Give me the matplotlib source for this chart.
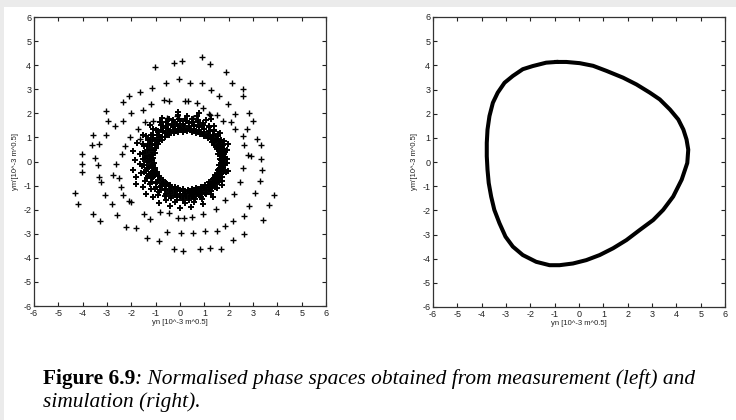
import numpy as np
import matplotlib.pyplot as plt
from matplotlib.patches import Rectangle

plt.rcParams['font.family'] = ['Liberation Sans Narrow', 'Liberation Sans', 'DejaVu Sans']
plt.rcParams['axes.unicode_minus'] = False

# Measurement: outer scattered turns (x, y)
outer_x = [0.89, 1.23, 0.07, -0.25, -1.03, 1.88, 2.12, 2.58, 2.58, -0.03, -0.58, -1.15, -1.64, -2.08,
           -2.33, 0.41, 0.89, 1.26, 1.60, 1.96, 2.26, 2.85, 3.01, 2.74, 3.15, 3.33, 2.63, 2.90, 3.33,
           3.36, 3.29, 3.10, 3.85, 3.64, 3.40, 2.85, 2.63, 2.18, 1.85, 2.19, 2.64, 1.51, 1.03, 0.55,
           0.03, -0.52, -1.34, -0.85, -0.25, 0.11, 0.82, 1.23, 1.68, -1.81, -2.22, -3.29, -3.56, -4.18,
           -4.32, -2.81, -3.08, -2.60, -2.08, -2.36, -2.74, -3.26, -3.33, -4.04, -4.04, -4.04, -3.63,
           -3.32, -3.56, -3.04, -3.48, -3.38, -2.97, -3.04, -2.67, -2.33, -2.03, -1.53, -1.21, -0.66,
           -0.44, 0.21, 0.32, 0.68, 0.93, 1.23, 1.51, 1.75, 2.08, 2.26, 2.60, 2.78, 2.58, 2.47, 2.23,
           1.85, 1.48, 0.96, 0.48, 0.18, -0.10, -0.44, -0.82, -1.23, -1.48, -2.03, -2.42, -2.52, -2.63,
           -2.40, -2.25, -2.05, -1.74, -1.44, -1.10, -0.55, -0.14, 0.55, 1.21, -1.64]
outer_y = [4.32, 4.04, 4.18, 4.07, 3.93, 3.70, 3.27, 3.00, 2.70, 3.42, 3.25, 3.07, 2.88, 2.70,
           2.47, 3.25, 3.25, 2.97, 2.70, 2.40, 1.99, 2.01, 1.67, 1.36, 0.95, 0.67, 0.67, 0.21, 0.10,
           -0.36, -0.79, -1.30, -1.38, -1.79, -2.41, -1.86, -2.27, -2.48, -2.68, -3.26, -3.03, -2.89,
           -2.89, -2.95, -2.96, -2.92, -3.19, -3.30, -3.64, -3.70, -3.63, -3.58, -3.63, -2.78, -2.71,
           -2.48, -2.16, -1.78, -1.30, -1.78, -1.41, -2.23, -1.64, -1.38, -0.56, -0.86, -0.63, -0.42,
           -0.11, 0.33, 0.67, 0.71, 1.12, 1.10, 0.16, -0.15, 1.67, 2.08, 1.49, 1.67, 2.01, 2.15, 2.40,
           2.56, 2.52, 2.53, 2.53, 2.42, 2.22, 1.95, 1.95, 1.67, 1.64, 1.33, 1.05, 0.26, -0.25, -0.84,
           -1.34, -1.58, -1.99, -2.16, -2.30, -2.33, -2.33, -2.12, -2.10, -2.37, -2.16, -1.68, -1.07,
           -0.70, -0.11, 0.30, 0.64, 1.03, 1.36, 1.64, 1.67, 1.81, 1.90, 1.81, 1.99, 0.92]

# Measurement: dense core ring, read as (angle in degrees, radius) about the ring centre
ring_cx, ring_cy = 0.27, 0.05
ring_ang = [3, 12, 20, 29, 37, 46, 55, 63, 71, 80, 89, 98, 106, 115, 124, 132, 141, 150, 158, 167,
            176, 185, 193, 202, 211, 219, 228, 237, 246, 254, 263, 272, 280, 289, 298, 306, 315, 324,
            333, 342, 351,
            7, 16, 25, 33, 42, 50, 59, 68, 76, 85, 94, 102, 111, 120, 128, 137, 146, 154, 163, 172,
            180, 189, 198, 206, 215, 224, 232, 241, 250, 258, 267, 276, 285, 293, 302, 311, 319, 328,
            337, 346, 355,
            1, 10, 18, 27, 35, 44, 52, 61, 70, 78, 87, 96, 104, 113, 122, 130, 139, 148, 156, 165,
            174, 182, 191, 200, 208, 217, 226, 234, 243, 252, 260, 269, 278, 287, 295, 304, 313, 321,
            330, 339, 348, 357,
            5, 14, 23, 31, 40, 48, 57, 66, 74, 83, 92, 100, 109, 118, 126, 135, 144, 152, 161, 170,
            178, 187, 196, 204, 213, 222, 230, 239, 248, 256, 265, 274, 282, 291, 300, 308, 317, 326,
            335, 344, 353,
            2, 15, 28, 40, 52, 64, 77, 90, 101, 113, 125, 137, 149, 160, 172, 184, 195, 207, 219, 231,
            243, 255, 268, 280, 292, 305, 317, 330, 343, 356,
            22, 60, 75, 100, 120, 135, 150, 160, 170, 180, 190, 198, 205, 212, 220, 228, 238, 250,
            262, 275, 290, 305, 325, 345,
            9, 18, 26, 35, 43, 52, 61, 69, 78, 86, 95, 104, 112, 121, 129, 138, 147, 155, 164, 173,
            181, 190, 199, 207, 216, 225, 233, 242, 251, 259, 268, 277, 286, 294, 303, 312, 320, 329,
            338, 347, 356,
            4, 13, 21, 30, 38, 47, 56, 65, 73, 82, 91, 99, 108, 117, 125, 134, 143, 151, 160, 169,
            177, 186, 195, 203, 212, 221, 229, 238, 247, 255, 264, 273, 281, 290, 299, 307, 316, 325,
            334, 343, 352,
            0, 8, 17, 24, 34, 41, 49, 58, 67, 75, 84, 93, 101, 110, 119, 127, 136, 145, 153, 162,
            171, 179, 188, 197, 205, 214, 223, 231, 240, 249, 257, 266, 275, 283, 292, 301, 310, 318,
            327, 336, 345, 354]
ring_rad = [1.36, 1.33, 1.35, 1.30, 1.29, 1.26, 1.24, 1.22, 1.21, 1.20, 1.21, 1.19, 1.22, 1.24, 1.27,
            1.30, 1.31, 1.34, 1.36, 1.35, 1.37, 1.36, 1.34, 1.31, 1.30, 1.27, 1.25, 1.22, 1.20, 1.21,
            1.19, 1.22, 1.20, 1.23, 1.25, 1.27, 1.30, 1.32, 1.31, 1.35, 1.34,
            1.45, 1.47, 1.42, 1.44, 1.40, 1.38, 1.37, 1.35, 1.33, 1.36, 1.32, 1.35, 1.38, 1.40, 1.43,
            1.44, 1.47, 1.46, 1.49, 1.48, 1.50, 1.47, 1.46, 1.44, 1.42, 1.40, 1.38, 1.36, 1.34, 1.32,
            1.35, 1.33, 1.36, 1.38, 1.37, 1.41, 1.43, 1.42, 1.46, 1.44, 1.47,
            1.52, 1.55, 1.53, 1.56, 1.54, 1.52, 1.55, 1.50, 1.53, 1.51, 1.54, 1.52, 1.55, 1.58, 1.60,
            1.62, 1.61, 1.64, 1.63, 1.66, 1.64, 1.62, 1.65, 1.63, 1.60, 1.58, 1.57, 1.54, 1.52, 1.50,
            1.49, 1.47, 1.50, 1.48, 1.51, 1.50, 1.53, 1.52, 1.55, 1.53, 1.54, 1.56,
            1.60, 1.62, 1.64, 1.66, 1.68, 1.70, 1.72, 1.71, 1.74, 1.73, 1.72, 1.75, 1.76, 1.78, 1.80,
            1.79, 1.82, 1.80, 1.84, 1.82, 1.80, 1.83, 1.81, 1.79, 1.78, 1.76, 1.74, 1.72, 1.70, 1.68,
            1.66, 1.64, 1.65, 1.63, 1.62, 1.61, 1.60, 1.63, 1.61, 1.62, 1.59,
            1.68, 1.70, 1.74, 1.78, 1.82, 1.85, 1.88, 1.86, 1.90, 1.88, 1.92, 1.90, 1.94, 1.92, 1.95,
            1.93, 1.96, 1.90, 1.88, 1.86, 1.83, 1.80, 1.78, 1.76, 1.74, 1.72, 1.70, 1.69, 1.71, 1.67,
            1.82, 1.98, 2.02, 2.05, 2.04, 2.10, 2.08, 2.15, 2.22, 2.12, 2.25, 2.18, 2.30, 2.12, 2.20,
            2.06, 2.10, 2.02, 1.98, 1.95, 1.92, 1.88, 1.80, 1.78,
            1.42, 1.45, 1.48, 1.47, 1.50, 1.52, 1.49, 1.46, 1.44, 1.42, 1.43, 1.46, 1.49, 1.52, 1.55,
            1.54, 1.57, 1.56, 1.58, 1.57, 1.55, 1.58, 1.56, 1.54, 1.52, 1.50, 1.48, 1.46, 1.43, 1.41,
            1.40, 1.42, 1.44, 1.43, 1.45, 1.44, 1.46, 1.45, 1.47, 1.44, 1.43,
            1.50, 1.52, 1.58, 1.60, 1.62, 1.64, 1.66, 1.63, 1.65, 1.62, 1.64, 1.66, 1.68, 1.70, 1.72,
            1.71, 1.74, 1.72, 1.75, 1.73, 1.72, 1.74, 1.73, 1.71, 1.70, 1.68, 1.66, 1.63, 1.61, 1.58,
            1.56, 1.55, 1.57, 1.54, 1.55, 1.53, 1.52, 1.55, 1.53, 1.52, 1.50,
            1.40, 1.39, 1.41, 1.37, 1.36, 1.33, 1.31, 1.29, 1.28, 1.27, 1.26, 1.27, 1.29, 1.31, 1.33,
            1.36, 1.38, 1.40, 1.42, 1.41, 1.43, 1.42, 1.40, 1.38, 1.36, 1.34, 1.31, 1.29, 1.27, 1.26,
            1.25, 1.27, 1.26, 1.28, 1.30, 1.32, 1.35, 1.37, 1.36, 1.39, 1.38, 1.41]

# Simulation: closed orbit (x, y)
sim_x = [-0.93, -1.35, -1.90, -2.31, -2.72, -3.06, -3.34, -3.54, -3.68, -3.76, -3.79, -3.79, -3.76,
         -3.71, -3.61, -3.48, -3.27, -3.02, -2.72, -2.31, -1.76, -1.21, -0.80, -0.25, 0.30, 0.85,
         1.40, 1.95, 2.50, 3.05, 3.46, 3.87, 4.22, 4.45, 4.49, 4.42, 4.29, 4.08, 3.74, 3.32, 2.91,
         2.36, 1.81, 1.13, 0.58, 0.03, -0.52, -0.93]
sim_y = [4.14, 4.11, 3.97, 3.84, 3.56, 3.28, 2.87, 2.45, 1.90, 1.34, 0.79, 0.24, -0.32, -0.87, -1.43,
         -1.98, -2.53, -3.09, -3.50, -3.85, -4.13, -4.27, -4.27, -4.20, -4.06, -3.85, -3.57, -3.23,
         -2.81, -2.40, -1.98, -1.43, -0.73, -0.04, 0.51, 0.93, 1.34, 1.76, 2.17, 2.59, 2.87, 3.21,
         3.49, 3.77, 3.98, 4.09, 4.14, 4.14]

ticks = list(range(-6, 7))
xlab = "yn [10^-3 m^0.5]"
ylab = "ym'[10^-3 m^0.5]"

fig = plt.figure(figsize=(7.36, 4.2), dpi=100)
fig.patch.set_facecolor('#ebebeb')
fig.patches.append(Rectangle((4 / 736, 0), 1, 413 / 420, transform=fig.transFigure,
                             facecolor='white', edgecolor='none', zorder=-5))

ax1 = fig.add_axes([34 / 736, 114 / 420, 292 / 736, 289 / 420])
ax2 = fig.add_axes([433 / 736, 113 / 420, 292 / 736, 290 / 420])

ang = np.deg2rad(ring_ang)
rx = ring_cx + np.array(ring_rad) * np.cos(ang)
ry = ring_cy + np.array(ring_rad) * np.sin(ang)
ax1.plot(outer_x, outer_y, '+', color='black', markersize=4.5, mew=1.0)
ax1.plot(rx, ry, '+', color='black', markersize=5, mew=1.4)

ax2.plot(sim_x, sim_y, '-', color='black', linewidth=2.9, solid_joinstyle='round')

for ax in (ax1, ax2):
    ax.set_xlim(-6, 6)
    ax.set_ylim(-6, 6)
    ax.set_xticks(ticks)
    ax.set_yticks(ticks)
    ax.tick_params(direction='in', top=True, right=True, length=3, width=0.8,
                   labelsize=6.5, colors='#222222', pad=2)
    for s in ax.spines.values():
        s.set_linewidth(0.9)
        s.set_color('#333333')
    ax.set_xlabel(xlab, fontsize=5.5, labelpad=1, color='#222222')
    ax.set_ylabel(ylab, fontsize=5.5, labelpad=3, color='#222222')

# Caption
serif = ['Liberation Serif', 'DejaVu Serif']
t1 = fig.text(43 / 736, 1 - 379 / 420, "Figure 6.9", fontsize=15.4, fontweight='bold',
              family=serif, va='center', ha='left')
fig.canvas.draw()
bb = t1.get_window_extent()
fig.text(bb.x1 / (7.36 * 100), 1 - 379 / 420,
         ": Normalised phase spaces obtained from measurement (left) and",
         fontsize=15.4, style='italic', family=serif, va='center', ha='left')
fig.text(43 / 736, 1 - 402 / 420, "simulation (right).", fontsize=15.4, style='italic',
         family=serif, va='center', ha='left')

plt.savefig('out.png', dpi=100)
